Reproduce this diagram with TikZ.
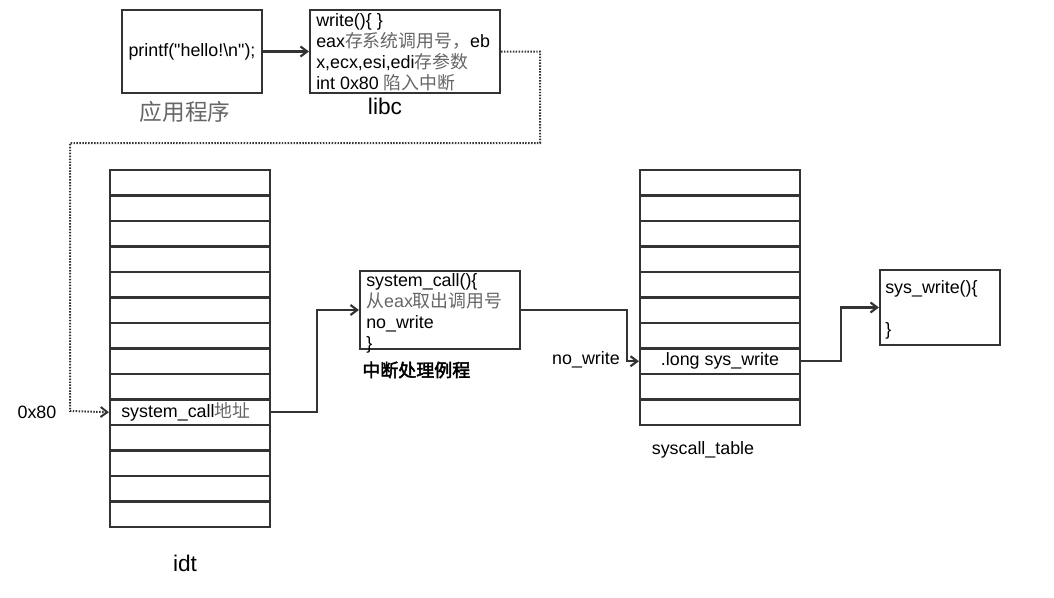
\documentclass[tikz,border=0pt]{standalone}
\usepackage{fontspec}
\setmainfont[Ligatures=TeXOff]{Liberation Sans}
\newfontfamily\cjk{Noto Sans CJK SC}
\newfontfamily\cjkbf[FakeBold=2.5]{Noto Sans CJK SC}
\usetikzlibrary{arrows.meta}
\definecolor{ln}{HTML}{333333}
\definecolor{zhgray}{HTML}{666666}
\newcommand\zh[1]{{\cjk\color{zhgray}#1}}
\begin{document}
\begin{tikzpicture}[x=0.75pt,y=-0.75pt,
  font=\fontsize{13.4}{15.75}\selectfont,
  box/.style={draw=ln,line width=1.6pt,inner sep=0pt},
  cell/.style={draw=ln,line width=1.6pt,inner sep=0pt,minimum width=120pt,minimum height=19.125pt},
  txt/.style={inner sep=0pt,align=left,anchor=north west},
  arr/.style={draw=ln,line width=1.6pt,-{Straight Barb[length=5pt,width=7.5pt]}},
  dotline/.style={draw=ln,line width=1.5pt,dash pattern=on 1.1pt off 1.1pt,-{Straight Barb[length=5pt,width=7.5pt]}},
  big/.style={font=\fontsize{17}{20}\selectfont}]
\fill[white] (0,0) rectangle (1054,597);
% top boxes
\node[box,minimum width=105pt,minimum height=62.25pt] (app) at (192,51.5) {printf("hello!\textbackslash n");};
\node[box,minimum width=142.5pt,minimum height=62.25pt] (libc) at (405,51.5) {};
\node[txt] (libctxt) at (316,13) {write()\{ \}\\eax\zh{存系统调用号，}eb\\x,ecx,esi,edi\zh{存参数}\\int 0x80 \zh{陷入中断}};
\node[big] (applabel) at (185,112) {{\cjk\color{zhgray}应用程序}};
\node[big] (libclabel) at (385,106) {libc};
% idt
\foreach \i in {0,...,13} \node[cell] (idt\i) at (190,{182.75+25.5*\i}) {};
\node[anchor=west,inner sep=0pt] (idttxt) at (121,412.25) {system\_call\zh{地址}};
\node[big] (idtlabel) at (185,563) {idt};
\node (hex) at (37,412) {0x80};
% syscall table
\foreach \i in {0,...,9} \node[cell] (st\i) at (720,{182.75+25.5*\i}) {};
\node (sttxt) at (720,361.25) {.long sys\_write};
\node (stlabel) at (703,450) {syscall\_table};
% system_call box
\node[box,minimum width=120pt,minimum height=58.5pt] (sc) at (440,310) {};
\node[txt] (sctxt) at (366,273) {system\_call()\{\\{\color{zhgray}\cjk 从}{\color{zhgray}eax}\zh{取出调用号}\\no\_write\\\}};
\node[anchor=west,inner sep=0pt] (sclabel) at (362,370) {\fontsize{13.5}{16}\selectfont\cjkbf 中断处理例程};
\node[anchor=east,inner sep=0pt] (nowrite) at (620,360) {no\_write};
% sys_write box
\node[box,minimum width=90pt,minimum height=56.25pt] (sw) at (940,307.5) {};
\node[txt] (swtxt) at (885,280) {sys\_write()\{\\~\\\}};
% connectors
\draw[arr] (app) -- (libc);
\coordinate (d1) at (540,143);
\coordinate (d2) at (70,411);
\draw[dotline] (libc.east) -| (d1) -| (d2) -- (idt9.west);
\draw[arr] (idt9.east) -- ++(46,0) |- (sc.west);
\draw[arr] (sc.east) -- ++(106,0) |- (st7.west);
\draw[arr] (st7.east) -- ++(40,0) |- (sw.west);
\end{tikzpicture}
\end{document}
